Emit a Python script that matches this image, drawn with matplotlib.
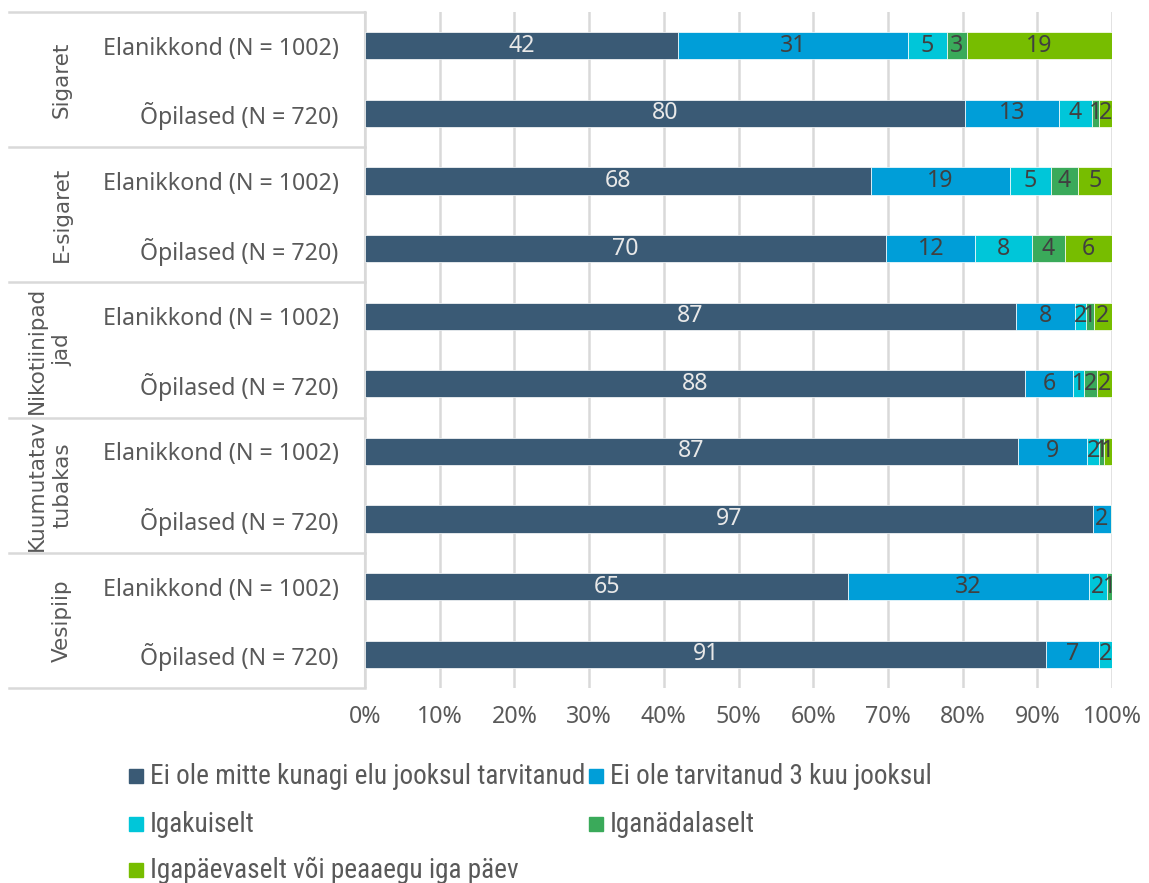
import matplotlib
matplotlib.use("Agg")
import matplotlib.pyplot as plt
from matplotlib.patches import Rectangle
import matplotlib.transforms as mtransforms
from matplotlib import font_manager

groups = ["Sigaret", "E-sigaret", "Nikotiinipad\njad", "Kuumutatav\ntubakas", "Vesipiip"]
subgroups = ["Elanikkond (N = 1002)", "Õpilased (N = 720)"]
series = ["Ei ole mitte kunagi elu jooksul tarvitanud",
          "Ei ole tarvitanud 3 kuu jooksul",
          "Igakuiselt",
          "Iganädalaselt",
          "Igapäevaselt või peaaegu iga päev"]
colors = ["#3a5a75", "#009ed8", "#00c6d9", "#3aaa5a", "#77bd00"]

# rows in order: Sigaret Elanikkond, Sigaret Õpilased, E-sigaret ..., Vesipiip Õpilased
never   = [41.9, 80.3, 67.7, 69.8, 87.1, 88.4, 87.4, 97.4, 64.7, 91.2]
not3m   = [30.8, 12.6, 18.7, 11.9,  7.9,  6.4,  9.3,  2.4, 32.2,  7.1]
monthly = [ 5.2,  4.4,  5.4,  7.6,  1.5,  1.4,  1.6,  0.1,  2.4,  1.7]
weekly  = [ 2.7,  0.9,  3.6,  4.4,  1.1,  1.8,  0.6,  0.1,  0.7,  0.0]
daily   = [19.4,  1.8,  4.6,  6.3,  2.4,  2.0,  1.1,  0.0,  0.0,  0.0]
values = [never, not3m, monthly, weekly, daily]
xticks = [0, 10, 20, 30, 40, 50, 60, 70, 80, 90, 100]

installed = {f.name for f in font_manager.fontManager.ttflist}
main_font = [f for f in ["Noto Sans", "Open Sans"] if f in installed] + ["DejaVu Sans"]
cond_font = [f for f in ["Liberation Sans Narrow", "Roboto Condensed", "Roboto"] if f in installed] + ["DejaVu Sans"]
plt.rcParams["font.family"] = main_font

W, H = 1149, 883
fig = plt.figure(figsize=(W / 100, H / 100), dpi=100)
ax = fig.add_axes([365 / W, 1 - 688 / H, (1112 - 365) / W, (688 - 12) / H])

n = len(never)
rows = list(range(n))
grid_c = "#d9d9d9"
text_c = "#595959"
FS = 16.7

left = [0.0] * n
for si, vals in enumerate(values):
    ax.barh(rows, vals, left=left, height=0.4, color=colors[si],
            edgecolor="white", linewidth=0.5, zorder=3)
    for r in rows:
        v = vals[r]
        lab = int(round(v))
        if lab >= 1:
            ax.text(left[r] + v / 2, r, str(lab), ha="center", va="center",
                    fontsize=FS, color="#e8e8e8" if si == 0 else "#404040",
                    zorder=4)
    left = [l + v for l, v in zip(left, vals)]

ax.set_xlim(0, 100)
ax.set_ylim(n - 0.5, -0.5)
ax.set_xticks(xticks)
ax.set_xticklabels([f"{t}%" for t in xticks])
ax.set_yticks(rows)
ax.set_yticklabels([subgroups[r % 2] for r in rows])
ax.tick_params(axis="y", length=0, pad=19, labelsize=FS, labelcolor=text_c)
ax.tick_params(axis="x", length=0, pad=12, labelsize=FS, labelcolor=text_c)
ax.grid(axis="x", color=grid_c, linewidth=1.8, zorder=0)
ax.set_axisbelow(True)
for s in ["top", "right", "bottom"]:
    ax.spines[s].set_visible(False)
ax.spines["left"].set_color(grid_c)
ax.spines["left"].set_linewidth(1.5)

# table separators on the left
trans = mtransforms.blended_transform_factory(ax.transAxes, ax.transData)
x0 = (9 - 365) / (1112 - 365)
for yb in [-0.5, 1.5, 3.5, 5.5, 7.5, 9.5]:
    ax.plot([x0, 0], [yb, yb], transform=trans, color=grid_c, lw=1.8,
            clip_on=False, zorder=5)

# group labels
for gi, g in enumerate(groups):
    yc = 2 * gi + 0.5
    ax.text(x0 + (72 - 9) / (1112 - 365), yc, g, transform=trans, rotation=90,
            ha="right", va="center", multialignment="center",
            fontsize=15.5, color=text_c, family=["DejaVu Sans"], linespacing=1.35)

# legend
pos = [(129, 776), (589, 776), (129, 824), (589, 824), (129, 870)]
for si, (px, py) in enumerate(pos):
    fig.patches.append(Rectangle((px / W, 1 - (py + 7) / H), 14 / W, 14 / H,
                                 transform=fig.transFigure, color=colors[si]))
    fig.text((px + 21) / W, 1 - py / H, series[si], ha="left", va="center",
             fontsize=19.6, color=text_c, family=cond_font)

fig.savefig("out.png", dpi=100)
